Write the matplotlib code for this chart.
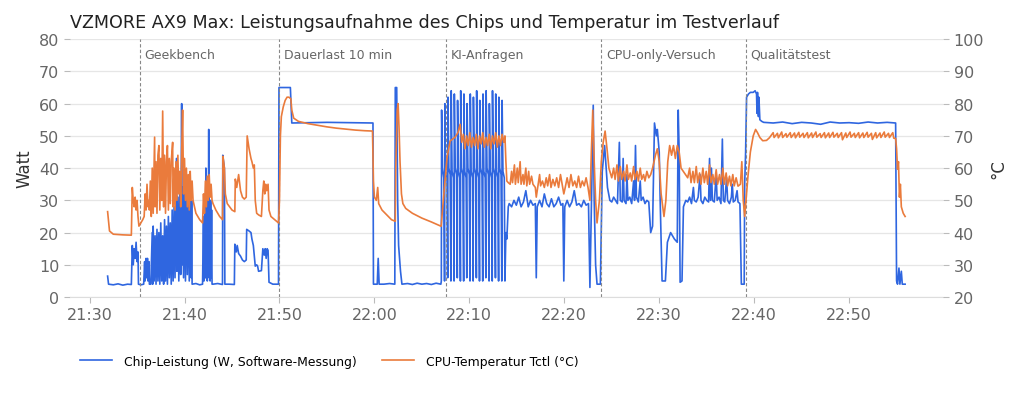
import pandas as pd
import matplotlib
matplotlib.use('Agg')
import matplotlib.pyplot as plt
import matplotlib.dates as mdates

# Minuten nach 21:30
power_pre = [(1.9, 6.5), (2.0, 4), (2.5, 3.8), (3.0, 4.1), (3.5, 3.7), (4.0, 4), (4.4, 3.9),
             (4.5, 16), (4.6, 10), (4.7, 15), (4.8, 12), (4.9, 17), (5.0, 11), (5.1, 14), (5.15, 4),
             (5.4, 3.8), (5.7, 4), (5.8, 11), (5.85, 5), (5.95, 12), (6.0, 6), (6.1, 12), (6.15, 5),
             (6.25, 11), (6.3, 4), (6.45, 4)]
power_geek = [(6.6, 20), (6.65, 4), (6.7, 22), (6.8, 5), (6.9, 19), (7.0, 4), (7.1, 21), (7.2, 5),
              (7.3, 20), (7.4, 4), (7.5, 23), (7.6, 5), (7.7, 19), (7.8, 4), (7.9, 24), (8.0, 5),
              (8.1, 22), (8.2, 4), (8.3, 25), (8.4, 6), (8.5, 23), (8.6, 4), (8.7, 27), (8.8, 5),
              (8.9, 28), (9.0, 6), (9.1, 30), (9.15, 43), (9.2, 8), (9.3, 31), (9.4, 5), (9.5, 33),
              (9.6, 7), (9.7, 60), (9.75, 10), (9.8, 34), (9.9, 6), (10.0, 35), (10.1, 5), (10.2, 38),
              (10.3, 7), (10.4, 35), (10.5, 5), (10.6, 34), (10.7, 6), (10.75, 30), (10.8, 4),
              (11.2, 4.2), (11.6, 3.8), (11.9, 4), (12.0, 25), (12.05, 5), (12.15, 28), (12.2, 6),
              (12.25, 40), (12.3, 6), (12.35, 30), (12.4, 5), (12.45, 28), (12.5, 8), (12.55, 52),
              (12.6, 6), (12.65, 28), (12.7, 5), (12.75, 30), (12.8, 6), (12.85, 27), (12.9, 4),
              (13.0, 4), (13.5, 4.2), (14.0, 3.9), (14.03, 44), (14.2, 40), (14.25, 4), (14.7, 4),
              (15.25, 3.9), (15.3, 16.4), (15.45, 14), (15.55, 16), (15.7, 13.5), (15.9, 12.7),
              (16.1, 11.5), (16.3, 11), (16.5, 11.5), (16.55, 21), (16.8, 20.5), (17.0, 20),
              (17.1, 18), (17.25, 16), (17.35, 12.7), (17.45, 9.6), (17.6, 10), (17.7, 9.6),
              (17.8, 8), (18.1, 8.2), (18.25, 15), (18.4, 13), (18.5, 15), (18.6, 12), (18.7, 15),
              (18.8, 14.5), (18.9, 4.6), (19.3, 4), (19.9, 4)]
power_dauer = [(19.95, 65), (21.15, 65), (21.3, 54), (25.0, 54.2), (29.85, 54), (29.9, 4),
               (30.3, 4), (30.4, 12), (30.5, 4), (31.0, 4), (31.6, 4.2), (32.15, 4), (32.2, 65),
               (32.35, 65), (32.45, 30), (32.55, 16), (32.75, 8), (32.9, 4), (33.5, 4.2),
               (34.0, 3.9), (34.5, 4.3), (35.0, 4), (35.5, 4.2), (36.0, 3.9), (36.5, 4.3), (37.0, 4)]
power_ki = [(37.05, 5), (37.08, 58), (37.17, 40), (37.31, 37),
            (37.39, 5), (37.42, 60), (37.51, 39), (37.65, 37),
            (37.72, 6), (37.75, 62), (37.84, 40), (37.98, 38),
            (38.06, 5), (38.09, 64), (38.18, 39), (38.32, 37),
            (38.39, 5), (38.42, 63), (38.51, 40), (38.65, 38),
            (38.73, 6), (38.76, 61), (38.85, 39), (38.99, 37),
            (39.06, 5), (39.09, 64), (39.18, 40), (39.32, 38),
            (39.40, 5), (39.43, 63), (39.52, 39), (39.66, 37),
            (39.73, 6), (39.76, 60), (39.85, 40), (39.99, 38),
            (40.07, 5), (40.10, 63), (40.19, 39), (40.33, 37),
            (40.40, 5), (40.43, 62), (40.52, 40), (40.66, 38),
            (40.74, 6), (40.77, 64), (40.86, 39), (41.00, 37),
            (41.07, 5), (41.10, 61), (41.19, 40), (41.33, 38),
            (41.41, 5), (41.44, 63), (41.53, 39), (41.67, 37),
            (41.74, 6), (41.77, 64), (41.86, 40), (42.00, 38),
            (42.08, 5), (42.11, 60), (42.20, 39), (42.34, 37),
            (42.41, 5), (42.44, 64), (42.53, 40), (42.67, 38),
            (42.75, 6), (42.78, 63), (42.87, 39), (43.01, 37),
            (43.08, 5), (43.11, 62), (43.20, 40), (43.34, 38),
            (43.42, 5), (43.45, 61), (43.54, 39), (43.68, 37),
            (43.75, 5), (43.85, 20), (43.95, 18), (44.1, 28),
            (44.2, 29), (44.45, 28), (44.7, 30), (44.95, 28.5), (45.2, 31), (45.45, 28),
            (45.7, 29.5), (45.95, 33), (46.2, 28), (46.45, 30), (46.7, 28.5), (46.95, 29),
            (47.05, 6), (47.15, 28), (47.4, 30), (47.65, 28), (47.9, 32), (48.15, 29), (48.4, 28),
            (48.65, 30.5), (48.9, 28), (49.15, 29), (49.4, 31), (49.65, 28.5), (49.85, 29),
            (49.95, 5), (50.05, 28), (50.3, 30), (50.55, 28), (50.8, 29.5), (51.05, 33),
            (51.3, 28.5), (51.55, 29), (51.8, 28), (52.05, 30), (52.3, 28.5), (52.55, 29),
            (52.7, 3), (52.85, 28), (52.95, 45), (53.05, 59.5), (53.15, 30), (53.3, 10), (53.45, 4)]
power_cpu = [(53.8, 4), (54.0, 39), (54.25, 47), (54.55, 34), (54.8, 30), (55.0, 29.5), (55.2, 31),
             (55.4, 30), (55.6, 29), (55.8, 48), (55.9, 30), (56.1, 29.5), (56.2, 43), (56.3, 30),
             (56.5, 29), (56.6, 38), (56.7, 30), (56.9, 31), (57.1, 29), (57.3, 36), (57.4, 30),
             (57.5, 47), (57.6, 31), (57.8, 29.5), (58.0, 36), (58.1, 30), (58.3, 31), (58.5, 29),
             (58.7, 30), (58.9, 29.5), (59.0, 25), (59.1, 20), (59.3, 22), (59.5, 54), (59.7, 50),
             (59.8, 52), (60.0, 45), (60.1, 30), (60.3, 5), (60.65, 5), (60.86, 17), (61.2, 20),
             (61.6, 18), (61.9, 17), (62.0, 58), (62.1, 45), (62.2, 4.6), (62.4, 5), (62.55, 28),
             (62.8, 30), (63.0, 29.5), (63.2, 31), (63.4, 29), (63.6, 34), (63.7, 30), (63.9, 29.5),
             (64.1, 31), (64.3, 38), (64.4, 30), (64.6, 29), (64.8, 31), (65.0, 30), (65.2, 29.5),
             (65.3, 43), (65.4, 30), (65.5, 40), (65.6, 30), (65.8, 29.5), (66.0, 38), (66.1, 30),
             (66.3, 31), (66.5, 29), (66.65, 49), (66.75, 30), (66.9, 29.5), (67.1, 37), (67.2, 30),
             (67.4, 29), (67.6, 31), (67.7, 35), (67.8, 29.5), (68.0, 30), (68.2, 33), (68.3, 29.5),
             (68.5, 29), (68.65, 4), (68.95, 4), (69.0, 35), (69.1, 45)]
power_quali = [(69.2, 62), (69.4, 63), (69.6, 63.5), (69.9, 63.5), (70.1, 64), (70.25, 63),
               (70.3, 57), (70.35, 63.5), (70.45, 56), (70.5, 62), (70.6, 55), (70.8, 54.5),
               (71.0, 54.2), (72.0, 54), (73.0, 54.3), (74.0, 53.8), (75.0, 54.2), (76.0, 54),
               (77.0, 53.6), (78.0, 54.3), (79.0, 54), (80.0, 54.1), (81.0, 53.9), (82.0, 54.3),
               (83.0, 54), (84.0, 54.2), (84.9, 54), (85.0, 5), (85.1, 4), (85.25, 9), (85.35, 4),
               (85.5, 8), (85.6, 4), (85.9, 4)]

temp_pre = [(1.9, 46.5), (2.1, 40.5), (2.5, 39.5), (3.5, 39.3), (4.4, 39.2), (4.5, 54), (4.6, 50),
            (4.7, 48), (4.8, 51), (4.9, 47), (5.0, 50), (5.1, 45), (5.2, 42), (5.4, 43), (5.6, 44),
            (5.75, 45), (5.85, 52), (5.95, 47), (6.05, 55), (6.15, 48), (6.25, 50), (6.3, 47)]
temp_geek = [(6.4, 56), (6.5, 45), (6.6, 60), (6.7, 46), (6.85, 69.6), (6.9, 48), (7.0, 62),
             (7.1, 46), (7.2, 64), (7.3, 67), (7.4, 47), (7.5, 63), (7.6, 50), (7.7, 77.7),
             (7.8, 48), (7.9, 64), (8.0, 46), (8.1, 62), (8.2, 67), (8.3, 47), (8.4, 63), (8.5, 49),
             (8.6, 62), (8.75, 68), (8.8, 48), (8.9, 60), (9.0, 47), (9.1, 62), (9.2, 50), (9.3, 64),
             (9.4, 52), (9.5, 59), (9.6, 48), (9.7, 65), (9.8, 78), (9.9, 52), (10.0, 63), (10.1, 50),
             (10.2, 60), (10.3, 48), (10.4, 58), (10.5, 47), (10.6, 59), (10.7, 50), (10.8, 56),
             (10.9, 50), (11.2, 46), (11.6, 44), (11.9, 43), (12.0, 52), (12.1, 46), (12.2, 56),
             (12.3, 48), (12.4, 57.5), (12.5, 50), (12.6, 58), (12.7, 51), (12.8, 55), (12.9, 50),
             (13.0, 49), (13.3, 47), (13.7, 45), (14.0, 44), (14.05, 63.7), (14.2, 60), (14.3, 52),
             (14.5, 49), (15.0, 47), (15.3, 46.5), (15.35, 56.6), (15.5, 54), (15.7, 58), (15.9, 53),
             (16.1, 51), (16.3, 50.4), (16.5, 51), (16.6, 70), (16.8, 66), (17.0, 63), (17.1, 62),
             (17.25, 60), (17.35, 61), (17.45, 50), (17.6, 46), (17.8, 45.5), (18.1, 45),
             (18.25, 53), (18.35, 56), (18.45, 52), (18.55, 55), (18.65, 53), (18.8, 55), (18.9, 47),
             (19.1, 45), (19.5, 44), (19.9, 43)]
temp_dauer = [(20.0, 50), (20.1, 70), (20.2, 76), (20.4, 79), (20.6, 81), (20.8, 82), (21.0, 82),
              (21.2, 81.5), (21.3, 78), (21.5, 75.5), (22.0, 74.5), (23.0, 73.8), (24.0, 73.3),
              (25.0, 72.8), (26.0, 72.4), (27.0, 72.1), (28.0, 71.8), (29.0, 71.6), (29.8, 71.5),
              (29.9, 56), (30.0, 51), (30.2, 50), (30.35, 54), (30.45, 49), (30.8, 47),
              (31.3, 45.5), (31.8, 44), (32.2, 43.5), (32.25, 60), (32.4, 78), (32.5, 80),
              (32.6, 72), (32.7, 62), (32.85, 52), (33.0, 49), (33.3, 47.5), (34.0, 46),
              (35.0, 44.5), (36.0, 43.3), (37.0, 42)]
temp_ki = [(37.03, 42), (37.24, 49.5), (37.45, 56.6), (37.66, 63.4), (37.97, 68.4), (38.5, 69.6),
           (38.8, 71), (39.03, 73.6), (39.2, 68), (39.37, 70.5), (39.54, 66), (39.71, 70),
           (39.88, 67), (40.05, 71), (40.22, 66.5), (40.39, 69.5), (40.56, 67), (40.73, 70.5),
           (40.9, 66), (41.07, 70), (41.24, 67.5), (41.41, 71), (41.58, 66.5), (41.75, 69.5),
           (41.92, 67), (42.09, 70.5), (42.26, 66), (42.43, 70), (42.6, 67.5), (42.77, 71),
           (42.94, 66.5), (43.11, 70), (43.28, 67), (43.45, 70.5), (43.62, 68), (43.75, 70),
           (43.85, 62), (43.95, 56), (44.1, 55.5), (44.3, 55), (44.45, 59), (44.55, 55.5),
           (44.75, 61), (44.85, 55), (45.05, 60), (45.15, 55.5), (45.35, 62), (45.45, 55),
           (45.65, 58), (45.75, 55), (45.95, 60), (46.05, 54.5), (46.25, 59), (46.35, 55),
           (46.55, 57.5), (46.7, 55), (46.95, 54), (47.05, 51), (47.2, 54), (47.4, 58),
           (47.5, 54.5), (47.7, 56), (47.9, 54), (48.1, 57), (48.25, 54.5), (48.45, 58), (48.6, 54),
           (48.8, 56.5), (49.0, 54.5), (49.2, 57), (49.4, 54), (49.6, 58), (49.8, 54.5),
           (49.95, 52), (50.1, 54), (50.3, 57), (50.5, 54), (50.7, 58), (50.9, 54.5), (51.1, 56),
           (51.3, 54), (51.5, 57.5), (51.7, 54), (51.9, 56), (52.1, 54.5), (52.3, 57), (52.5, 54),
           (52.7, 50), (52.85, 65), (53.0, 78), (53.15, 62), (53.3, 50), (53.45, 43)]
temp_cpu = [(53.7, 50), (53.9, 62), (54.1, 68), (54.3, 71.5), (54.5, 66), (54.7, 60), (55.0, 57),
            (55.2, 60), (55.35, 56.5), (55.55, 61), (55.7, 56), (55.9, 60.5), (56.05, 56.5),
            (56.25, 59), (56.4, 56), (56.6, 61), (56.75, 56.5), (56.95, 58.5), (57.1, 56),
            (57.3, 60.5), (57.45, 56.5), (57.65, 59), (57.8, 56), (58.0, 60), (58.15, 56.5),
            (58.35, 58), (58.5, 56), (58.7, 59), (58.9, 57), (59.1, 58), (59.3, 60), (59.6, 64),
            (59.8, 66), (60.0, 62), (60.2, 52), (60.5, 45), (60.7, 50), (60.9, 62), (61.1, 67),
            (61.3, 64), (61.5, 67), (61.7, 63), (61.9, 67), (62.1, 65), (62.3, 60), (62.6, 58.7),
            (63.0, 57), (63.2, 60), (63.35, 55.5), (63.55, 59), (63.7, 55.5), (63.9, 60.5),
            (64.05, 55.5), (64.25, 58.5), (64.4, 55), (64.6, 60), (64.75, 55.5), (64.95, 59),
            (65.1, 55), (65.3, 61), (65.45, 55.5), (65.65, 58), (65.8, 55), (66.0, 59.5),
            (66.15, 55), (66.35, 58), (66.5, 55), (66.7, 60), (66.85, 55), (67.05, 58.5),
            (67.2, 54.5), (67.4, 57.5), (67.55, 54.5), (67.75, 58), (67.9, 54.5), (68.1, 57),
            (68.3, 54.4), (68.55, 55), (68.7, 62), (68.85, 50), (69.0, 45)]
temp_quali = [(69.2, 52), (69.35, 57.6), (69.6, 65), (69.9, 70), (70.15, 72), (70.35, 71),
              (70.6, 69.5), (70.9, 68.5), (71.3, 68.6), (71.6, 69.4), (72.0, 71), (72.1, 69.5),
              (72.45, 70.8), (72.55, 69.4), (72.9, 71.2), (73.0, 69.5), (73.35, 70.7), (73.45, 69.6),
              (73.8, 71), (73.9, 69.5), (74.25, 70.9), (74.35, 69.4), (74.7, 71.1), (74.8, 69.6),
              (75.15, 70.8), (75.25, 69.5), (75.6, 71), (75.7, 69.4), (76.05, 70.9), (76.15, 69.5),
              (76.5, 71.2), (76.6, 69.6), (76.95, 70.7), (77.05, 69.5), (77.4, 71), (77.5, 69.4),
              (77.85, 70.9), (77.95, 69.5), (78.3, 71.1), (78.4, 69.6), (78.75, 70.8), (78.85, 69.5),
              (79.2, 71), (79.3, 68.8), (79.65, 70.9), (79.75, 69.5), (80.1, 71.2), (80.2, 69.6),
              (80.55, 70.8), (80.65, 69.5), (81.0, 71), (81.1, 69.4), (81.45, 70.9), (81.55, 69.5),
              (81.9, 71.1), (82.0, 69.6), (82.35, 70.8), (82.45, 68.9), (82.8, 71), (82.9, 69.4),
              (83.25, 70.9), (83.35, 69.5), (83.7, 71.2), (83.8, 69.6), (84.15, 70.8), (84.25, 69.5),
              (84.6, 71), (84.7, 69.3), (84.9, 69.2), (85.0, 66), (85.1, 59.7), (85.2, 62),
              (85.3, 51), (85.4, 55), (85.5, 48), (85.7, 46), (85.9, 45)]

phase_names = ['Geekbench', 'Dauerlast 10 min', 'KI-Anfragen', 'CPU-only-Versuch', 'Qualitätstest']
phase_start = [5.27, 19.94, 37.55, 53.9, 69.1]

BLUE = '#2f66e0'
ORANGE = '#ea7b3c'
GREY = '#666666'

start = pd.Timestamp('2025-01-01 21:30')


def to_series(*parts):
    pts = [p for part in parts for p in part]
    t = start + pd.to_timedelta([p[0] for p in pts], unit='m')
    return t, [p[1] for p in pts]


t_p, power = to_series(power_pre, power_geek, power_dauer, power_ki, power_cpu, power_quali)
t_t, temp = to_series(temp_pre, temp_geek, temp_dauer, temp_ki, temp_cpu, temp_quali)

fig = plt.figure(figsize=(10.24, 4.1), dpi=100)
ax = fig.add_axes([0.068, 0.273, 0.853, 0.629])
ax2 = ax.twinx()

l1, = ax.plot(t_p, power, color=BLUE, lw=1.2, label='Chip-Leistung (W, Software-Messung)')
l2, = ax2.plot(t_t, temp, color=ORANGE, lw=1.2, label='CPU-Temperatur Tctl (°C)')

ax.set_xlim(start - pd.Timedelta(minutes=2.1), start + pd.Timedelta(minutes=89.9))
ax.set_ylim(0, 80)
ax2.set_ylim(20, 100)
ax.set_yticks(range(0, 81, 10))
ax2.set_yticks(range(20, 101, 10))
ax.grid(axis='y', color='#e6e6e6', lw=0.9)
ax.set_axisbelow(True)

for a in (ax, ax2):
    for s in a.spines.values():
        s.set_visible(False)
    a.tick_params(colors='#bbbbbb', labelcolor=GREY, labelsize=11.5, length=4)
ax.spines['bottom'].set_visible(True)
ax.spines['bottom'].set_color('#dddddd')

ax.xaxis.set_major_locator(mdates.MinuteLocator(byminute=range(0, 60, 10)))
ax.xaxis.set_major_formatter(mdates.DateFormatter('%H:%M'))

ax.set_ylabel('Watt', fontsize=12, color='#333333')
ax2.set_ylabel('°C', fontsize=12, color='#333333', labelpad=4)

for name, m in zip(phase_names, phase_start):
    tx = start + pd.Timedelta(minutes=m)
    ax.axvline(tx, color='#888888', lw=0.8, ls=(0, (3, 2)))
    ax.text(tx + pd.Timedelta(minutes=0.5), 75.3, name, fontsize=9, color=GREY, va='center')

fig.text(0.068, 0.945, 'VZMORE AX9 Max: Leistungsaufnahme des Chips und Temperatur im Testverlauf',
         fontsize=12.6, color='#222222', va='center')

fig.legend([l1, l2], [l1.get_label(), l2.get_label()], loc='center left',
           bbox_to_anchor=(0.067, 0.117), ncol=2, frameon=False, fontsize=8.9,
           handlelength=2.6, handletextpad=1.0, columnspacing=2.0)

fig.savefig('out.png', dpi=100)
